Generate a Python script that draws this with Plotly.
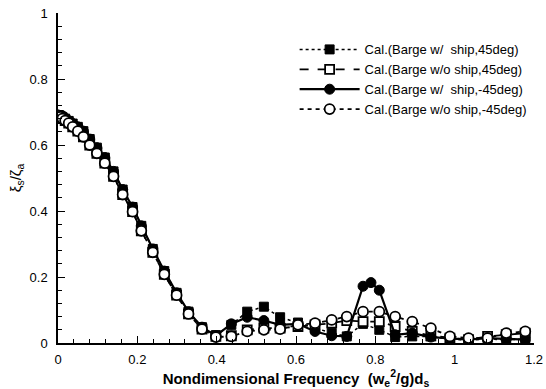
import plotly.graph_objects as go

# Shared frequency points (nondimensional)
x_common = [0.000, 0.002, 0.006, 0.011, 0.018, 0.027, 0.037, 0.050, 0.064, 0.080,
            0.098, 0.118, 0.140, 0.163, 0.188, 0.210, 0.239, 0.268, 0.299, 0.329,
            0.363, 0.398, 0.437, 0.477, 0.519, 0.560, 0.605, 0.648, 0.690, 0.728,
            0.769, 0.810, 0.850, 0.893, 0.940, 0.988, 1.035, 1.083, 1.130, 1.178]

# Series: Cal.(Barge w/ ship,45deg)
y_a = [0.690, 0.690, 0.688, 0.685, 0.680, 0.673, 0.665, 0.655, 0.642, 0.618,
       0.592, 0.562, 0.520, 0.465, 0.412, 0.355, 0.285, 0.218, 0.152, 0.095,
       0.048, 0.024, 0.055, 0.095, 0.110, 0.078, 0.062, 0.045, 0.030, 0.020,
       0.058, 0.040, 0.018, 0.020, 0.020, 0.012, 0.008, 0.012, 0.010, 0.012]

# Series: Cal.(Barge w/o ship,45deg)
y_b = [0.690, 0.688, 0.685, 0.680, 0.674, 0.666, 0.655, 0.642, 0.625, 0.600,
       0.575, 0.545, 0.505, 0.450, 0.398, 0.340, 0.275, 0.208, 0.145, 0.088,
       0.042, 0.020, 0.022, 0.040, 0.045, 0.045, 0.050, 0.055, 0.060, 0.068,
       0.065, 0.065, 0.050, 0.035, 0.022, 0.015, 0.010, 0.020, 0.025, 0.030]

# Series: Cal.(Barge w/ ship,-45deg)  (extra point at the 0.8 peak)
x_c = [0.000, 0.002, 0.006, 0.011, 0.018, 0.027, 0.037, 0.050, 0.064, 0.080,
       0.098, 0.118, 0.140, 0.163, 0.188, 0.210, 0.239, 0.268, 0.299, 0.329,
       0.363, 0.398, 0.437, 0.477, 0.519, 0.560, 0.605, 0.648, 0.690, 0.728,
       0.769, 0.789, 0.810, 0.850, 0.893, 0.940, 0.988, 1.035, 1.083, 1.130, 1.178]
y_c = [0.690, 0.690, 0.688, 0.685, 0.680, 0.673, 0.665, 0.655, 0.642, 0.618,
       0.592, 0.562, 0.520, 0.465, 0.412, 0.355, 0.285, 0.218, 0.152, 0.095,
       0.048, 0.022, 0.058, 0.078, 0.068, 0.055, 0.058, 0.035, 0.022, 0.020,
       0.172, 0.183, 0.160, 0.025, 0.030, 0.018, 0.015, 0.010, 0.015, 0.012, 0.010]

# Series: Cal.(Barge w/o ship,-45deg)
y_d = [0.690, 0.688, 0.685, 0.680, 0.674, 0.666, 0.655, 0.642, 0.625, 0.600,
       0.575, 0.545, 0.505, 0.450, 0.398, 0.340, 0.275, 0.208, 0.145, 0.088,
       0.042, 0.018, 0.020, 0.035, 0.040, 0.042, 0.055, 0.060, 0.070, 0.080,
       0.095, 0.095, 0.080, 0.065, 0.045, 0.020, 0.015, 0.015, 0.030, 0.035]

names = ["Cal.(Barge w/  ship,45deg)", "Cal.(Barge w/o ship,45deg)",
         "Cal.(Barge w/  ship,-45deg)", "Cal.(Barge w/o ship,-45deg)"]

x_tickvals = [0, 0.2, 0.4, 0.6, 0.8, 1.0, 1.2]
x_ticktext = ["0", "0.2", "0.4", "0.6", "0.8", "1", "1.2"]
y_tickvals = [0, 0.2, 0.4, 0.6, 0.8, 1.0]
y_ticktext = ["0", "0.2", "0.4", "0.6", "0.8", "1"]

fig = go.Figure()
fig.add_trace(go.Scatter(x=x_common, y=y_a, name=names[0], mode="lines+markers",
                         line=dict(color="black", width=1.5, dash="dot"),
                         marker=dict(symbol="square", size=9, color="black",
                                     line=dict(color="black", width=1))))
fig.add_trace(go.Scatter(x=x_common, y=y_b, name=names[1], mode="lines+markers",
                         line=dict(color="black", width=1.8, dash="dash"),
                         marker=dict(symbol="square", size=9, color="white",
                                     line=dict(color="black", width=1.8))))
fig.add_trace(go.Scatter(x=x_c, y=y_c, name=names[2], mode="lines+markers",
                         line=dict(color="black", width=2.2, dash="solid"),
                         marker=dict(symbol="circle", size=10, color="black",
                                     line=dict(color="black", width=1))))
fig.add_trace(go.Scatter(x=x_common, y=y_d, name=names[3], mode="lines+markers",
                         line=dict(color="black", width=1.8, dash="4px,4px"),
                         marker=dict(symbol="circle", size=10, color="white",
                                     line=dict(color="black", width=1.8))))

axis_font = dict(family="Liberation Sans, Arial, sans-serif", size=13, color="black")

fig.update_layout(
    width=546, height=389,
    margin=dict(l=58, r=12, t=13, b=46),
    paper_bgcolor="white", plot_bgcolor="white",
    font=axis_font,
    showlegend=True,
    legend=dict(x=0.995, y=0.935, xanchor="right", yanchor="top",
                bgcolor="rgba(0,0,0,0)", borderwidth=0,
                font=dict(family="Liberation Sans, Arial, sans-serif", size=13, color="black"),
                tracegroupgap=0, itemwidth=60),
    xaxis=dict(range=[0, 1.2], tickvals=x_tickvals, ticktext=x_ticktext, automargin=False,
               showgrid=False, zeroline=False, showline=True, linecolor="black", linewidth=1.5,
               ticks="inside", ticklen=7, tickwidth=1, tickcolor="black",
               minor=dict(dtick=0.04, ticks="inside", ticklen=4, tickcolor="black", showgrid=False),
               ticklabelstandoff=4, tickfont=axis_font,
               title=dict(text="<b>Nondimensional Frequency  (w<sub>e</sub><sup>2</sup>/g)d<sub>s</sub></b>",
                          font=dict(family="Liberation Sans, Arial, sans-serif", size=15, color="black"),
                          standoff=6)),
    yaxis=dict(range=[0, 1.0], tickvals=y_tickvals, ticktext=y_ticktext, automargin=False,
               showgrid=False, zeroline=False, showline=True, linecolor="black", linewidth=1.5,
               ticks="inside", ticklen=7, tickwidth=1, tickcolor="black",
               minor=dict(dtick=0.04, ticks="inside", ticklen=4, tickcolor="black", showgrid=False),
               ticklabelstandoff=6, tickfont=axis_font,
               title=dict(text="ξ<sub>s</sub>/ζ<sub>a</sub>",
                          font=dict(family="Liberation Sans, Arial, sans-serif", size=15, color="black"),
                          standoff=4)),
)

fig.write_html("out.html")
